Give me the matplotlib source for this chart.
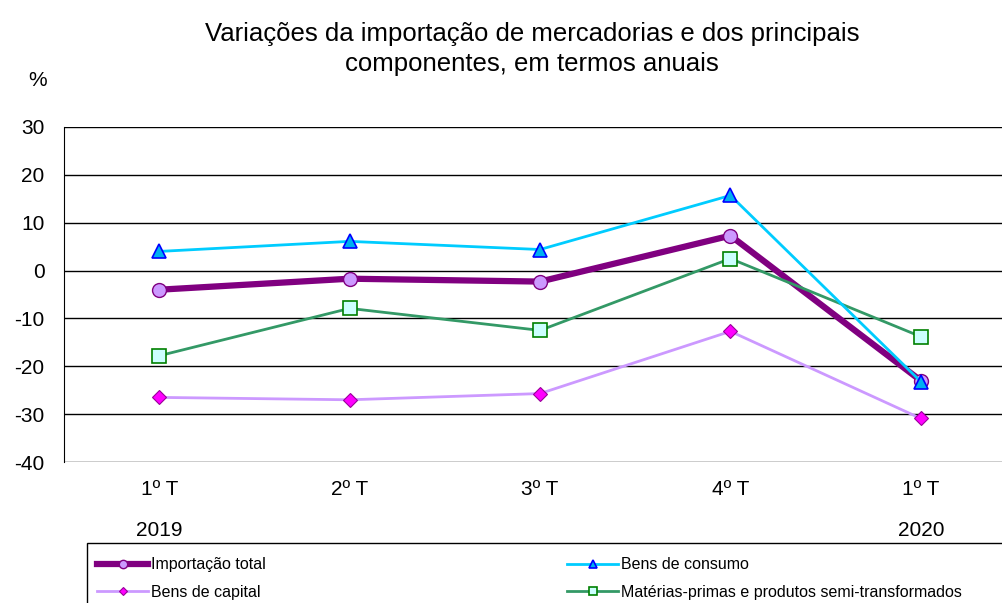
import matplotlib

matplotlib.use("Agg")
import matplotlib.pyplot as plt
import matplotlib.transforms as mtransforms
from matplotlib.patches import Rectangle

plt.rcParams["font.family"] = ["Liberation Sans", "DejaVu Sans"]
plt.rcParams["axes.unicode_minus"] = False

quarters = ["1º T", "2º T", "3º T", "4º T", "1º T"]
years = ["2019", "", "", "", "2020"]

total = [-4.0, -1.7, -2.3, 7.3, -23.0]
consumo = [4.0, 6.1, 4.4, 15.7, -23.2]
capital = [-26.5, -27.0, -25.7, -12.7, -30.9]
materias = [-17.8, -7.9, -12.5, 2.5, -13.8]

W, H = 1003, 603
fig = plt.figure(figsize=(W / 100, H / 100), dpi=100)
# plot area in pixels: left 64, right 1016 (runs past the edge), top 127, bottom 462
ax = fig.add_axes([64 / W, 1 - 462 / H, (1016 - 64) / W, (462 - 127) / H])

x = range(len(quarters))
ax.plot(x, total, color="#800080", lw=4.5, marker="o", ms=10,
        mfc="#CC99FF", mec="#800080", mew=1, label="Importação total", zorder=3)
ax.plot(x, consumo, color="#00CCFF", lw=2, marker="^", ms=10,
        mfc="#00B0F0", mec="#0000FF", mew=1.2, label="Bens de consumo", zorder=5)
ax.plot(x, capital, color="#CC99FF", lw=2, marker="D", ms=7.5,
        mfc="#FF00FF", mec="#990099", mew=0.8, label="Bens de capital", zorder=4)
ax.plot(x, materias, color="#339966", lw=2, marker="s", ms=9.5,
        mfc="#CCFFFF", mec="#008000", mew=1.2,
        label="Matérias-primas e produtos semi-transformados", zorder=4)

ax.set_xlim(-0.5, 4.5)
ax.set_ylim(-40, 30)
ax.set_yticks(range(-40, 31, 10))
ax.yaxis.grid(True, color="black", lw=1)
ax.set_axisbelow(True)
for side in ["top", "right", "bottom"]:
    ax.spines[side].set_visible(False)
ax.spines["left"].set_color("black")
ax.tick_params(axis="y", length=0, labelsize=15, pad=14)
ax.tick_params(axis="x", length=0, labelsize=15, pad=13)
ax.set_xticks(list(x))
ax.set_xticklabels(quarters)

trans = mtransforms.blended_transform_factory(ax.transData, fig.transFigure)
for i, yr in enumerate(years):
    if yr:
        ax.text(i, 1 - 530 / H, yr, transform=trans, ha="center", va="center",
                fontsize=15)

fig.text(532 / W, 1 - 49 / H,
         "Variações da importação de mercadorias e dos principais\n"
         "componentes, em termos anuais",
         ha="center", va="center", fontsize=18.5, linespacing=1.3)
fig.text(38 / W, 1 - 80 / H, "%", ha="center", va="center", fontsize=15)

# legend box runs past the right edge, like the original
fig.patches.append(Rectangle((87 / W, -0.02), 0.1 + (1003 - 87) / W, 0.02 + 60 / H,
                             transform=fig.transFigure, fill=False,
                             edgecolor="black", lw=1))

handles, labels = ax.get_legend_handles_labels()
order = [0, 2, 1, 3]
leg = fig.legend([handles[i] for i in order], [labels[i] for i in order],
                 loc="upper left", bbox_to_anchor=(82 / W, 1 - 542 / H),
                 ncol=2, fontsize=11.5, frameon=False, handlelength=3.2,
                 borderaxespad=0, borderpad=0.95, labelspacing=0.8,
                 handletextpad=0.15, columnspacing=18.9, markerscale=0.6)

fig.savefig("out.png", dpi=100)
